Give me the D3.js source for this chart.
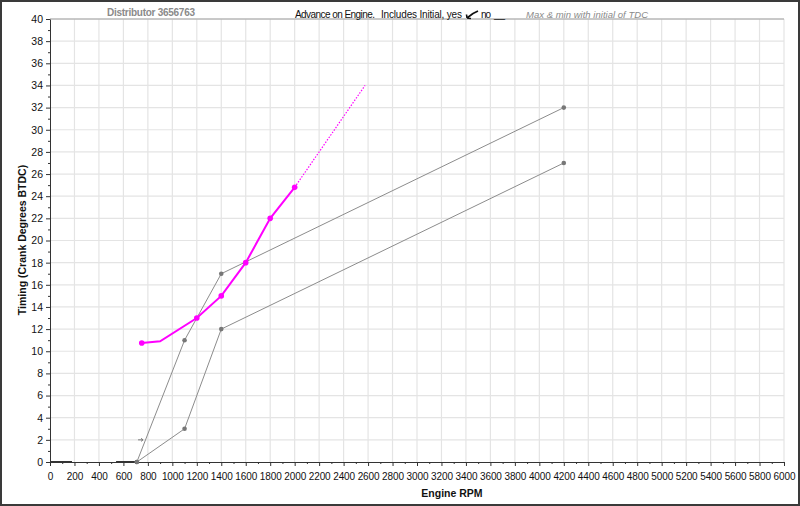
<!DOCTYPE html>
<html><head><meta charset="utf-8">
<script src="https://cdn.jsdelivr.net/npm/d3@7"></script>
<style>body{margin:0;background:#fff}svg{display:block;font-family:"Liberation Sans",Arial,sans-serif}</style>
</head><body>
<svg id="c" width="800" height="506"></svg>
<script>
// Data
const xTicks = d3.range(0, 6001, 200);
const yTicks = d3.range(0, 41, 2);
const maxRpm = [710, 1100, 1400, 4200];
const maxAdv = [0, 11, 17, 32];
const minRpm = [710, 1100, 1400, 4200];
const minAdv = [0, 3, 12, 27];
const measRpm = [750, 900, 1200, 1400, 1600, 1800, 2000];
const measAdv = [10.75, 10.9, 13, 15, 18, 22, 24.8];
const measDot = [true, false, true, true, true, true, true];
const extRpm = [2000, 2575];
const extAdv = [24.8, 34];
const zeroSegs = [[0, 180], [540, 710]];

const svg = d3.select("#c");
const W = 800, H = 506;
const x = d3.scaleLinear().domain([0, 6000]).range([50, 784]);
const y = d3.scaleLinear().domain([0, 40]).range([462, 19]);

svg.append("rect").attr("x", 0).attr("y", 0).attr("width", W).attr("height", H).attr("fill", "#fff");
svg.append("rect").attr("x", 1).attr("y", 1).attr("width", W - 2).attr("height", H - 2)
  .attr("fill", "none").attr("stroke", "#3a3a3a").attr("stroke-width", 2);

// grid
const g = svg.append("g");
g.selectAll("line.vx").data(xTicks.filter(d => d > 0)).join("line")
  .attr("x1", d => x(d)).attr("x2", d => x(d)).attr("y1", y(40)).attr("y2", y(0))
  .attr("stroke", "#e4e4e4").attr("stroke-width", 1.2);
g.selectAll("line.hy").data(yTicks.filter(d => d > 0)).join("line")
  .attr("x1", x(0)).attr("x2", x(6000)).attr("y1", d => y(d)).attr("y2", d => y(d))
  .attr("stroke", "#e4e4e4").attr("stroke-width", 1.2);
svg.append("line").attr("x1", x(0)).attr("x2", x(6000)).attr("y1", y(40)).attr("y2", y(40))
  .attr("stroke", "#a0a0a0").attr("stroke-width", 1);

// axes
const xAxis = d3.axisBottom(x).tickValues(xTicks).tickSize(4).tickSizeOuter(0).tickFormat(d3.format("d"));
const gx = svg.append("g").attr("transform", `translate(0,${y(0)})`).call(xAxis);
gx.select(".domain").attr("stroke", "#333");
gx.selectAll(".tick line").attr("stroke", "#333");
gx.selectAll("text").attr("font-size", 10).attr("fill", "#111").attr("dy", "1.05em").attr("letter-spacing", "-0.1");
const xMinor = d3.axisBottom(x).tickValues(d3.range(100, 6000, 200)).tickSize(2).tickFormat("");
const gxm = svg.append("g").attr("transform", `translate(0,${y(0)})`).call(xMinor);
gxm.select(".domain").remove(); gxm.selectAll("line").attr("stroke", "#333");

const yAxis = d3.axisLeft(y).tickValues(yTicks).tickSize(4).tickSizeOuter(0);
const gy = svg.append("g").attr("transform", `translate(${x(0)},0)`).call(yAxis);
gy.select(".domain").attr("stroke", "#333");
gy.selectAll(".tick line").attr("stroke", "#333");
gy.selectAll("text").attr("font-size", 10.5).attr("fill", "#111");
const yMinor = d3.axisLeft(y).tickValues(d3.range(1, 40, 2)).tickSize(2).tickFormat("");
const gym = svg.append("g").attr("transform", `translate(${x(0)},0)`).call(yMinor);
gym.select(".domain").remove(); gym.selectAll("line").attr("stroke", "#333");

// axis titles
svg.append("text").attr("x", 452).attr("y", 497).attr("text-anchor", "middle")
  .attr("font-size", 10.5).attr("font-weight", "bold").attr("fill", "#111").text("Engine RPM");
svg.append("text").attr("transform", "translate(26,240) rotate(-90)").attr("text-anchor", "middle")
  .attr("font-size", 10.5).attr("font-weight", "bold").attr("fill", "#111").text("Timing (Crank Degrees BTDC)");

// header texts
svg.append("text").attr("x", 107).attr("y", 16).attr("font-size", 10).attr("font-weight", "bold")
  .attr("fill", "#8a8a8a").attr("textLength", 88).text("Distributor 3656763");
const hdr = [["Advance on Engine.", 295, 80], ["Includes Initial, yes", 381, 81], ["no", 481, 10], ["__", 494, 11]];
svg.selectAll(null).data(hdr).join("text").attr("x", d => d[1]).attr("y", 17.5).attr("font-size", 10)
  .attr("fill", "#111").attr("textLength", d => d[2]).text(d => d[0]);
svg.append("path").attr("d", "M467,18 L473,13.5 M467,18 L466.5,14.5 M467,18 L471,18.5 M473,13.5 L478,11")
  .attr("stroke", "#111").attr("stroke-width", 1.6).attr("fill", "none");
svg.append("text").attr("x", 526).attr("y", 17.5).attr("font-size", 9.5).attr("font-style", "italic")
  .attr("fill", "#8a8a8a").attr("textLength", 122).text("Max & min with initial of TDC");

// zero segments
svg.selectAll("line.z").data(zeroSegs).join("line")
  .attr("x1", d => x(d[0])).attr("x2", d => x(d[1])).attr("y1", y(0)).attr("y2", y(0))
  .attr("stroke", "#333").attr("stroke-width", 2);

// small arrow marker
svg.append("path").attr("d", `M${x(720)},${y(2)} l5,0 l-2,-1.5 m2,1.5 l-2,1.5`)
  .attr("stroke", "#777").attr("stroke-width", 1).attr("fill", "none");

// gray lines
const line = d3.line().x(d => x(d[0])).y(d => y(d[1]));
function gray(r, a) {
  const pts = r.map((v, i) => [v, a[i]]);
  svg.append("path").attr("d", line(pts)).attr("fill", "none").attr("stroke", "#8c8c8c").attr("stroke-width", 1);
  svg.selectAll(null).data(pts).join("circle").attr("cx", d => x(d[0])).attr("cy", d => y(d[1]))
    .attr("r", 2.3).attr("fill", "#777");
}
gray(maxRpm, maxAdv);
gray(minRpm, minAdv);

// magenta measured
const mPts = measRpm.map((v, i) => [v, measAdv[i], measDot[i]]);
svg.append("path").attr("d", line(extRpm.map((v, i) => [v, extAdv[i]])))
  .attr("fill", "none").attr("stroke", "#ff00ff").attr("stroke-width", 1.2).attr("stroke-dasharray", "1.5,1.5");
svg.append("path").attr("d", line(mPts)).attr("fill", "none").attr("stroke", "#ff00ff").attr("stroke-width", 2);
svg.selectAll(null).data(mPts.filter(d => d[2])).join("circle")
  .attr("cx", d => x(d[0])).attr("cy", d => y(d[1])).attr("r", 2.8).attr("fill", "#ff00ff");
</script>
</body></html>
